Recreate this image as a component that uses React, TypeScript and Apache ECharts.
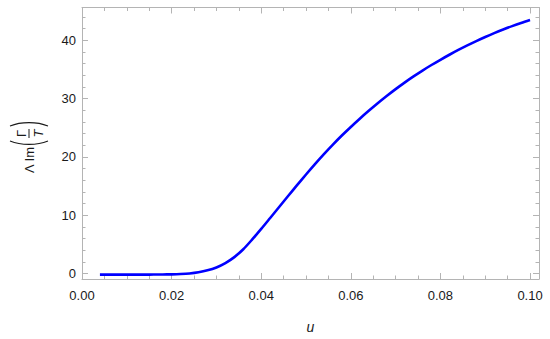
import React, { useEffect, useRef } from "react";
import * as echarts from "echarts";

const uValues = [
  0.004, 0.006, 0.008, 0.01, 0.012, 0.014, 0.016, 0.018, 0.02, 0.022, 0.024,
  0.026, 0.028, 0.03, 0.032, 0.034, 0.036, 0.038, 0.04, 0.042, 0.044, 0.046,
  0.048, 0.05, 0.052, 0.054, 0.056, 0.058, 0.06, 0.062, 0.064, 0.066, 0.068,
  0.07, 0.072, 0.074, 0.076, 0.078, 0.08, 0.082, 0.084, 0.086, 0.088, 0.09,
  0.092, 0.094, 0.096, 0.098, 0.1,
];
const imValues = [
  -0.15, -0.15, -0.15, -0.15, -0.15, -0.15, -0.14, -0.12, -0.1, -0.05, 0.05,
  0.25, 0.58, 1.08, 1.83, 2.85, 4.2, 5.88, 7.68, 9.55, 11.43, 13.31,
  15.17, 17.0, 18.78, 20.49, 22.12, 23.67, 25.14, 26.55, 27.9, 29.2, 30.44,
  31.62, 32.74, 33.8, 34.8, 35.75, 36.65, 37.51, 38.33, 39.11, 39.85, 40.55,
  41.21, 41.83, 42.41, 42.95, 43.45,
];

const FONT = '"Liberation Sans", Arial, sans-serif';
const FRAME = "#b4b4b4";
const TEXT = "#1a1a1a";

export default function App() {
  const ref = useRef<HTMLDivElement>(null);
  useEffect(() => {
    if (!ref.current) return;
    const chart = echarts.init(ref.current, null, { renderer: "svg" });
    const axisCommon = {
      type: "value" as const,
      axisLine: { show: true, onZero: false, lineStyle: { color: FRAME, width: 1 } },
      axisTick: { show: true, inside: true, length: 6, lineStyle: { color: FRAME } },
      minorTick: { show: true, length: 3.5, lineStyle: { color: FRAME } },
      splitLine: { show: false },
    };
    const xRange = { min: 0, max: 0.102, interval: 0.02 };
    const yRange = { min: -0.9, max: 45.6, splitNumber: 5 };
    chart.setOption({
      animation: false,
      backgroundColor: "#ffffff",
      grid: { left: 82, right: 11, top: 7.5, bottom: 50, containLabel: false },
      xAxis: [
        {
          ...axisCommon,
          ...xRange,
          position: "bottom",
          minorTick: { ...axisCommon.minorTick, splitNumber: 4 },
          axisLabel: {
            show: true,
            margin: 10,
            color: TEXT,
            fontSize: 13,
            fontFamily: FONT,
            showMaxLabel: false,
            formatter: (v: number) => v.toFixed(2),
          },
          name: "u",
          nameLocation: "middle",
          nameGap: 41,
          nameTextStyle: { color: TEXT, fontSize: 14, fontStyle: "italic", fontFamily: FONT },
        },
        {
          ...axisCommon,
          ...xRange,
          position: "top",
          minorTick: { ...axisCommon.minorTick, splitNumber: 4 },
          axisLabel: { show: false },
        },
      ],
      yAxis: [
        {
          ...axisCommon,
          ...yRange,
          position: "left",
          minorTick: { ...axisCommon.minorTick, splitNumber: 5 },
          axisLabel: {
            show: true,
            margin: 6,
            color: TEXT,
            fontSize: 13,
            fontFamily: FONT,
            showMinLabel: false,
            showMaxLabel: false,
            formatter: (v: number) => String(v),
          },
        },
        {
          ...axisCommon,
          ...yRange,
          position: "right",
          minorTick: { ...axisCommon.minorTick, splitNumber: 5 },
          axisLabel: { show: false },
        },
      ],
      graphic: [
        {
          type: "group",
          x: 29,
          y: 148,
          rotation: Math.PI / 2,
          children: [
            {
              type: "text",
              x: -25,
              y: 0,
              style: {
                text: "Λ Im",
                font: `13px ${FONT}`,
                fill: TEXT,
                align: "left",
                verticalAlign: "middle",
                textAlign: "left",
                textVerticalAlign: "middle",
              },
            },
            {
              type: "bezierCurve",
              shape: { x1: 7, y1: -19, x2: 7, y2: 19, cpx1: 2.5, cpy1: -8, cpx2: 2.5, cpy2: 8 },
              style: { stroke: TEXT, lineWidth: 1.1, fill: "none" },
            },
            {
              type: "bezierCurve",
              shape: { x1: 22, y1: -19, x2: 22, y2: 19, cpx1: 26.5, cpy1: -8, cpx2: 26.5, cpy2: 8 },
              style: { stroke: TEXT, lineWidth: 1.1, fill: "none" },
            },
            {
              type: "line",
              shape: { x1: 10, y1: 0, x2: 19, y2: 0 },
              style: { stroke: TEXT, lineWidth: 1 },
            },
            {
              type: "text",
              x: 14.5,
              y: -8,
              style: {
                text: "Γ",
                font: `13px ${FONT}`,
                fill: TEXT,
                align: "center",
                verticalAlign: "middle",
                textAlign: "center",
                textVerticalAlign: "middle",
              },
            },
            {
              type: "text",
              x: 14.5,
              y: 9,
              style: {
                text: "T",
                font: `italic 13px ${FONT}`,
                fill: TEXT,
                align: "center",
                verticalAlign: "middle",
                textAlign: "center",
                textVerticalAlign: "middle",
              },
            },
          ],
        },
      ],
      series: [
        {
          type: "line",
          xAxisIndex: 0,
          yAxisIndex: 0,
          data: uValues.map((u, i) => [u, imValues[i]]),
          showSymbol: false,
          smooth: 0.3,
          lineStyle: { color: "#0000ff", width: 2.6 },
          silent: true,
        },
      ],
    });
    return () => chart.dispose();
  }, []);
  return (
    <div
      ref={ref}
      style={{ position: "fixed", left: 0, top: 0, width: 550, height: 339, background: "#fff" }}
    />
  );
}
